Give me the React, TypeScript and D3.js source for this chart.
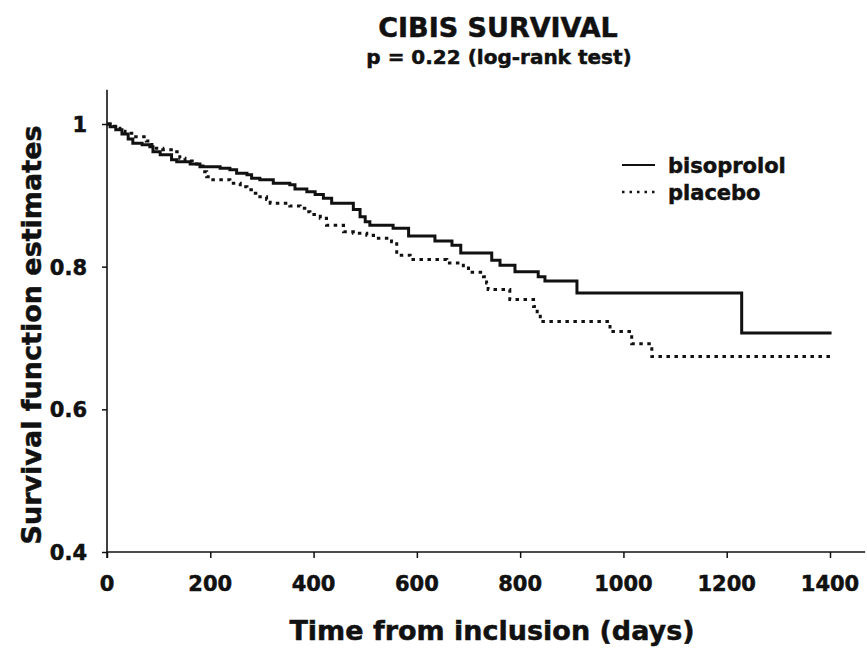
import React, { useEffect, useRef } from 'react';
import * as d3 from 'd3';

// Kaplan-Meier steps: day of each drop, survival after it
const bisoDays = [0, 6, 17, 29, 41, 50, 68, 83, 89, 103, 125, 135, 161, 180, 219, 238, 251, 271, 280, 296, 322, 354, 364, 387, 403, 419, 435, 477, 490, 500, 509, 554, 584, 635, 668, 685, 745, 761, 790, 835, 848, 910, 1229, 1403];
const bisoSurv = [1.0, 0.996, 0.992, 0.986, 0.979, 0.973, 0.971, 0.968, 0.961, 0.957, 0.950, 0.947, 0.944, 0.940, 0.938, 0.936, 0.931, 0.929, 0.924, 0.922, 0.917, 0.915, 0.909, 0.905, 0.901, 0.896, 0.889, 0.880, 0.870, 0.863, 0.858, 0.854, 0.843, 0.836, 0.830, 0.819, 0.809, 0.802, 0.793, 0.786, 0.780, 0.763, 0.707, 0.707];

const placDays = [0, 6, 16, 25, 35, 48, 76, 87, 108, 135, 141, 151, 165, 180, 186, 193, 200, 238, 258, 271, 283, 296, 309, 316, 354, 374, 383, 393, 413, 425, 458, 477, 503, 516, 551, 561, 587, 658, 690, 700, 729, 735, 738, 780, 826, 833, 839, 974, 1016, 1055, 1405];
const placSurv = [1.0, 0.997, 0.994, 0.990, 0.987, 0.982, 0.976, 0.966, 0.964, 0.961, 0.952, 0.948, 0.944, 0.941, 0.933, 0.926, 0.922, 0.917, 0.912, 0.908, 0.903, 0.898, 0.894, 0.889, 0.885, 0.882, 0.877, 0.873, 0.868, 0.858, 0.849, 0.847, 0.844, 0.840, 0.835, 0.816, 0.810, 0.805, 0.798, 0.792, 0.786, 0.777, 0.768, 0.754, 0.744, 0.734, 0.723, 0.709, 0.692, 0.674, 0.674];

const xTicks = [0, 200, 400, 600, 800, 1000, 1200, 1400];
const yTicks = [0.4, 0.6, 0.8, 1];
const yTickLabels = ['0.4', '0.6', '0.8', '1'];
const seriesNames = ['bisoprolol', 'placebo'];

const FONT = '"DejaVu Sans", sans-serif';
const INK = '#111';

const App: React.FC = () => {
  const svgRef = useRef<SVGSVGElement>(null);

  useEffect(() => {
    if (!svgRef.current) return;
    const width = 867;
    const height = 650;

    const svg = d3.select(svgRef.current)
      .attr('width', width)
      .attr('height', height)
      .style('background-color', '#fff');

    svg.selectAll('*').remove();
    const g = svg.append('g');

    // Scales
    const x = d3.scaleLinear().domain([0, 1400]).range([107, 830]);
    const y = d3.scaleLinear().domain([0.4, 1]).range([552, 124]);

    // heavy photocopied look for all text
    const heavy = (sel: any, size: number) => sel
      .attr('font-family', FONT)
      .attr('font-weight', 'bold')
      .attr('font-size', size)
      .attr('fill', INK)
      .attr('stroke', INK)
      .attr('stroke-width', 0.5);

    // Axes (ticks from d3, lines extended by hand)
    const xAxis = d3.axisBottom(x).tickValues(xTicks).tickSize(6).tickFormat(() => '');
    const xg = g.append('g').attr('transform', `translate(0,${y(0.4)})`).call(xAxis);
    xg.select('.domain').remove();
    xg.selectAll('line').attr('stroke', INK).attr('stroke-width', 1.5);
    g.append('line')
      .attr('x1', x(0)).attr('x2', x(1468))
      .attr('y1', y(0.4)).attr('y2', y(0.4))
      .attr('stroke', INK).attr('stroke-width', 1.6);

    const yAxis = d3.axisLeft(y).tickValues(yTicks).tickSize(5).tickFormat(() => '');
    const yg = g.append('g').attr('transform', `translate(${x(0)},0)`).call(yAxis);
    yg.select('.domain').remove();
    yg.selectAll('line').attr('stroke', INK).attr('stroke-width', 1.5);
    g.append('line')
      .attr('x1', x(0)).attr('x2', x(0))
      .attr('y1', y(0.4) + 6).attr('y2', y(1.048))
      .attr('stroke', INK).attr('stroke-width', 1.6);

    // Tick labels
    heavy(g.selectAll('.xlab')
      .data(xTicks)
      .enter().append('text')
      .attr('x', d => x(d))
      .attr('y', 591)
      .attr('text-anchor', 'middle'), 21)
      .text((d: number) => String(d));

    heavy(g.selectAll('.ylab')
      .data(yTicks)
      .enter().append('text')
      .attr('x', 87)
      .attr('y', d => y(d) + 8)
      .attr('text-anchor', 'end'), 21)
      .text((d: number, i: number) => yTickLabels[i]);

    // Step curves
    const line = d3.line<[number, number]>()
      .curve(d3.curveStepAfter)
      .x(d => x(d[0]))
      .y(d => y(d[1]));

    const biso = bisoDays.map((d, i) => [d, bisoSurv[i]] as [number, number]);
    const plac = placDays.map((d, i) => [d, placSurv[i]] as [number, number]);

    g.append('path')
      .datum(plac)
      .attr('fill', 'none')
      .attr('stroke', INK)
      .attr('stroke-width', 3)
      .attr('stroke-dasharray', '3.5 4.5')
      .attr('d', line);

    g.append('path')
      .datum(biso)
      .attr('fill', 'none')
      .attr('stroke', INK)
      .attr('stroke-width', 3)
      .attr('d', line);

    // Legend
    const legend = g.append('g');
    seriesNames.forEach((name, i) => {
      const ly = 165 + i * 27;
      legend.append('line')
        .attr('x1', 622).attr('x2', 655)
        .attr('y1', ly).attr('y2', ly)
        .attr('stroke', INK)
        .attr('stroke-width', i === 0 ? 2.2 : 2.4)
        .attr('stroke-dasharray', i === 0 ? null : '2.5 5');
      heavy(legend.append('text')
        .attr('x', 668)
        .attr('y', ly + 8), 21)
        .text(name);
    });

    // Titles
    heavy(g.append('text')
      .attr('x', 498).attr('y', 37)
      .attr('text-anchor', 'middle'), 27)
      .text('CIBIS SURVIVAL');

    heavy(g.append('text')
      .attr('x', 499).attr('y', 64)
      .attr('text-anchor', 'middle'), 20)
      .text('p = 0.22 (log-rank test)');

    heavy(g.append('text')
      .attr('x', 492).attr('y', 640)
      .attr('text-anchor', 'middle'), 27)
      .text('Time from inclusion (days)');

    heavy(g.append('text')
      .attr('transform', 'translate(41,335) rotate(-90)')
      .attr('text-anchor', 'middle'), 27)
      .text('Survival function estimates');
  }, []);

  return (
    <div style={{ position: 'absolute', top: 0, left: 0, width: 867, height: 650, background: '#fff' }}>
      <svg ref={svgRef} style={{ display: 'block' }}></svg>
    </div>
  );
};

export default App;
